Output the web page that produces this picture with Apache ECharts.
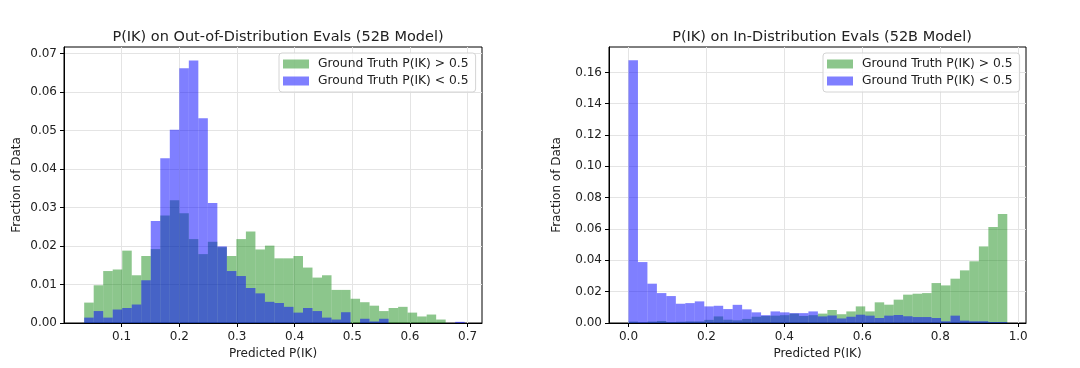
<!DOCTYPE html>
<html>
<head>
<meta charset="utf-8">
<script src="https://cdn.jsdelivr.net/npm/echarts@6.0.0/dist/echarts.min.js"></script>
<style>
  html, body { margin: 0; padding: 0; background: #ffffff; }
  #chart { width: 1080px; height: 368px; }
</style>
</head>
<body>
<div id="chart"></div>
<script>
// bin layout of each histogram (40 bins each)
const oodBinLo = 0.035
const oodBinWidth = 0.0165
const idBinLo = 0.0
const idBinWidth = 0.0243

// out-of-distribution evals, fraction of data per bin
const oodHigh = [
  0.0053, 0.0098, 0.0135, 0.0139, 0.0188, 0.0124, 0.0174, 0.0192, 0.0279, 0.0319,
  0.0285, 0.0218, 0.0179, 0.0211, 0.0197, 0.0174, 0.0218, 0.0238, 0.0191, 0.0201,
  0.0168, 0.0168, 0.0174, 0.0144, 0.0118, 0.0124, 0.0086, 0.0086, 0.0063, 0.0054,
  0.0045, 0.0031, 0.0039, 0.0042, 0.0027, 0.0017, 0.0022, 0.0009, 0.0, 0.0
]
const oodLow = [
  0.0014, 0.0031, 0.0014, 0.0035, 0.0039, 0.0048, 0.0111, 0.0265, 0.0428, 0.0502,
  0.0662, 0.0682, 0.0532, 0.0312, 0.0199, 0.0135, 0.0122, 0.0091, 0.0077, 0.0055,
  0.0052, 0.0042, 0.0027, 0.0039, 0.0031, 0.0014, 0.0009, 0.0028, 0.0, 0.0011,
  0.0004, 0.0011, 0.0, 0.0, 0.0, 0.0, 0.0, 0.0, 0.0, 0.0003
]

// in-distribution evals
const idHigh = [
  0.0009, 0.0004, 0.0009, 0.0013, 0.0006, 0.0008, 0.0010, 0.0010, 0.0020, 0.0042,
  0.0021, 0.0017, 0.0026, 0.0040, 0.0045, 0.0047, 0.0050, 0.0060, 0.0045, 0.0050,
  0.0060, 0.0083, 0.0056, 0.0074, 0.0106, 0.0074, 0.0132, 0.0117, 0.0149, 0.0181,
  0.0187, 0.0191, 0.0255, 0.0240, 0.0283, 0.0336, 0.0394, 0.0489, 0.0613, 0.0696
]
const idLow = [
  0.1677, 0.0389, 0.0251, 0.0191, 0.0172, 0.0123, 0.0127, 0.0138, 0.0106, 0.0110,
  0.0089, 0.0116, 0.0087, 0.0068, 0.0050, 0.0074, 0.0068, 0.0063, 0.0063, 0.0074,
  0.0042, 0.0048, 0.0029, 0.0040, 0.0053, 0.0047, 0.0032, 0.0047, 0.0051, 0.0043,
  0.0038, 0.0038, 0.0032, 0.0011, 0.0047, 0.0015, 0.0011, 0.0011, 0.0006, 0.0006
]

// tick labels
const oodXTicks = [0.1, 0.2, 0.3, 0.4, 0.5, 0.6, 0.7]
const oodYTicks = [0, 0.01, 0.02, 0.03, 0.04, 0.05, 0.06, 0.07]
const idXTicks = [0, 0.2, 0.4, 0.6, 0.8, 1.0]
const idYTicks = [0, 0.02, 0.04, 0.06, 0.08, 0.10, 0.12, 0.14, 0.16]

const nameHigh = 'Ground Truth P(IK) > 0.5'
const nameLow = 'Ground Truth P(IK) < 0.5'
const green = 'rgba(0, 128, 0, 0.45)'
const blue = 'rgba(0, 0, 255, 0.5)'
const font = 'DejaVu Sans'
const textColor = '#222'

// [binStart, binEnd, height]
function bins (lo, width, values) {
  return values.map((v, i) => [lo + i * width, lo + (i + 1) * width, v])
}

function renderBar (params, api) {
  const p0 = api.coord([api.value(0), api.value(2)])
  const p1 = api.coord([api.value(1), 0])
  return {
    type: 'rect',
    shape: { x: p0[0], y: p0[1], width: p1[0] - p0[0], height: p1[1] - p0[1] },
    style: api.style()
  }
}

function xAxis (grid, min, max, ticks) {
  return {
    type: 'value',
    gridIndex: grid,
    min: min,
    max: max,
    name: 'Predicted P(IK)',
    nameLocation: 'middle',
    nameGap: 25,
    nameTextStyle: { fontFamily: font, fontSize: 12, color: textColor },
    axisLine: { show: true, onZero: false, lineStyle: { color: '#000', width: 1 } },
    axisTick: { show: true, length: 4, customValues: ticks, lineStyle: { color: '#000' } },
    axisLabel: {
      customValues: ticks,
      margin: 8,
      fontFamily: font,
      fontSize: 12,
      color: textColor,
      formatter: v => v.toFixed(1)
    },
    splitLine: { show: true, lineStyle: { color: '#e4e4e4', width: 1 } }
  }
}

function yAxis (grid, max, interval, ticks, gap) {
  return {
    type: 'value',
    gridIndex: grid,
    min: 0,
    max: max,
    interval: interval,
    name: 'Fraction of Data',
    nameLocation: 'middle',
    nameGap: gap,
    nameTextStyle: { fontFamily: font, fontSize: 12, color: textColor },
    axisLine: { show: true, onZero: false, lineStyle: { color: '#000', width: 1 } },
    axisTick: { show: true, length: 4, customValues: ticks, lineStyle: { color: '#000' } },
    axisLabel: {
      customValues: ticks,
      margin: 7,
      fontFamily: font,
      fontSize: 12,
      color: textColor,
      formatter: v => v.toFixed(2)
    },
    splitLine: { show: true, lineStyle: { color: '#e4e4e4', width: 1 } }
  }
}

function legend (left, top) {
  return {
    left: left,
    top: top,
    orient: 'vertical',
    selectedMode: false,
    icon: 'rect',
    itemWidth: 26,
    itemHeight: 9,
    itemGap: 5,
    padding: [5, 7, 5, 4],
    borderColor: '#d4d4d4',
    borderWidth: 1,
    borderRadius: 3,
    backgroundColor: 'rgba(255, 255, 255, 0.8)',
    textStyle: { fontFamily: font, fontSize: 12.3, color: textColor, padding: [0, 0, 0, 4] },
    data: [nameHigh, nameLow]
  }
}

function histSeries (name, color, grid, data) {
  return {
    name: name,
    type: 'custom',
    xAxisIndex: grid,
    yAxisIndex: grid,
    renderItem: renderBar,
    itemStyle: { color: color },
    encode: { x: [0, 1], y: 2 },
    data: data,
    animation: false
  }
}

const chart = echarts.init(document.getElementById('chart'), null, { renderer: 'canvas' })
chart.setOption({
  backgroundColor: '#ffffff',
  animation: false,
  title: [
    {
      text: 'P(IK) on Out-of-Distribution Evals (52B Model)',
      left: 273,
      top: 25,
      textAlign: 'center',
      textStyle: { fontFamily: font, fontSize: 14.5, fontWeight: 'normal', color: textColor }
    },
    {
      text: 'P(IK) on In-Distribution Evals (52B Model)',
      left: 817,
      top: 25,
      textAlign: 'center',
      textStyle: { fontFamily: font, fontSize: 14.5, fontWeight: 'normal', color: textColor }
    }
  ],
  legend: [legend(279, 53), legend(823, 53)],
  grid: [
    { left: 64, width: 418, top: 47, bottom: 45, show: true, borderColor: '#000', borderWidth: 1 },
    { left: 609, width: 417, top: 47, bottom: 45, show: true, borderColor: '#000', borderWidth: 1 }
  ],
  xAxis: [
    xAxis(0, 0, 0.725, oodXTicks),
    xAxis(1, -0.05, 1.02, idXTicks)
  ],
  yAxis: [
    yAxis(0, 0.0717, 0.01, oodYTicks, 41),
    yAxis(1, 0.1762, 0.02, idYTicks, 46)
  ],
  series: [
    histSeries(nameHigh, green, 0, bins(oodBinLo, oodBinWidth, oodHigh)),
    histSeries(nameLow, blue, 0, bins(oodBinLo, oodBinWidth, oodLow)),
    histSeries(nameHigh, green, 1, bins(idBinLo, idBinWidth, idHigh)),
    histSeries(nameLow, blue, 1, bins(idBinLo, idBinWidth, idLow))
  ]
})
</script>
</body>
</html>
